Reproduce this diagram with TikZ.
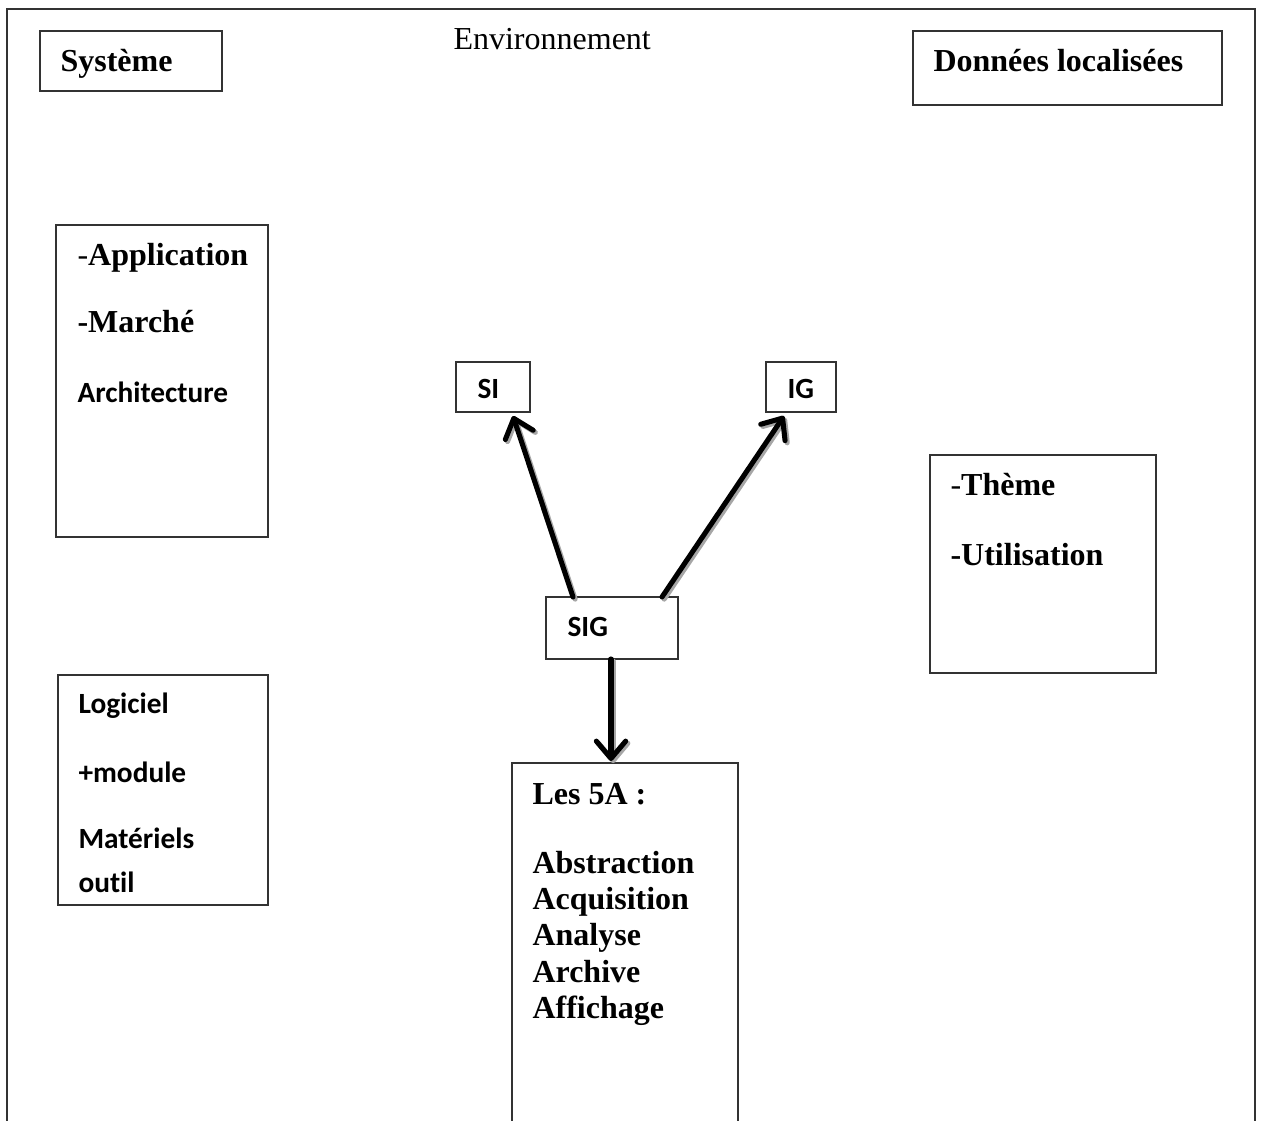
\documentclass[tikz,border=0pt]{standalone}
\usepackage{fontspec}
\setmainfont{Liberation Serif}
\newfontfamily\calib[Ligatures=NoCommon]{Carlito}
\usetikzlibrary{arrows.meta,fit,calc}
\begin{document}
\begin{tikzpicture}[x=0.375pt,y=-0.375pt,
  box/.style={draw=black!80,line width=0.55pt,inner sep=0pt,outer sep=0pt,rectangle},
  tx/.style={anchor=base west,inner sep=0pt,font=\fontsize{12}{14}\selectfont\bfseries},
  cx/.style={anchor=base west,inner sep=0pt,font=\fontsize{11}{13}\selectfont\calib\bfseries},
  tipstyle/.style={-{Straight Barb[length=6.5pt,width=11pt,line cap=round,line join=round]}},
  conn/.style={line width=1.9pt,line cap=round,line join=round,tipstyle},
  connshadow/.style={conn,draw=black!35,transform canvas={shift={(0.8pt,-0.8pt)}}}]
\useasboundingbox (0,0) rectangle (1262,1120);
\clip (0,0) rectangle (1262,1120);
\fill[white] (0,0) rectangle (1262,1120);
% outer frame
\node[box,fit={(7,9) (1255,1160)}] (env) {};
\node[anchor=base west,inner sep=0pt,font=\fontsize{12}{14}\selectfont] (envt) at (453,50) {Environnement};
% boxes
\node[box,fit={(40,31) (222,91)}] (sys) {};
\node[tx] (syst) at (60,72) {Système};
\node[box,fit={(913,31) (1222,105)}] (don) {};
\node[tx] (dont) at (933,72) {Données localisées};
\node[box,fit={(56,225) (268,537)}] (app) {};
\node[tx] (appa) at (77,265) {\mdseries-\bfseries Application};
\node[tx] (appb) at (77,332) {-Marché};
\node[cx] (appc) at (77,402) {Architecture};
\node[box,fit={(58,675) (268,905)}] (log) {};
\node[cx] (loga) at (78,713) {Logiciel};
\node[cx] (logb) at (78,782) {+module};
\node[cx] (logc) at (78,848) {Matériels};
\node[cx] (logd) at (78,892) {outil};
\node[box,fit={(456,362) (530,412)}] (si) {};
\node[cx] (sit) at (477,398) {SI};
\node[box,fit={(766,362) (836,412)}] (ig) {};
\node[cx] (igt) at (787,398) {IG};
\node[box,fit={(546,597) (678,659)}] (sig) {};
\node[cx] (sigt) at (567,636) {SIG};
\node[box,fit={(930,455) (1156,673)}] (the) {};
\node[tx] (thea) at (950,495) {\mdseries-\bfseries Thème};
\node[tx] (theb) at (950,565) {-Utilisation};
\node[box,fit={(512,763) (738,1160)}] (les) {};
\node[tx] (lesa) at (532,804) {Les 5A :};
\node[tx] (lesb) at (532,873) {Abstraction};
\node[tx] (lesc) at (532,909) {Acquisition};
\node[tx] (lesd) at (532,945) {Analyse};
\node[tx] (lese) at (532,982) {Archive};
\node[tx] (lesf) at (532,1018) {Affichage};
% connector shadows
\draw[connshadow] ($(sig.north west)+(27,0)$) -- ($(si.south west)+(57,4)$);
\draw[connshadow] ($(sig.north west)+(116,0)$) -- ($(ig.south west)+(18,4)$);
\draw[connshadow] ($(sig.south west)+(65,0)$) -- ($(les.north west)+(99,-2)$);
% connectors
\draw[conn] ($(sig.north west)+(27,0)$) -- ($(si.south west)+(57,4)$);
\draw[conn] ($(sig.north west)+(116,0)$) -- ($(ig.south west)+(18,4)$);
\draw[conn] ($(sig.south west)+(65,0)$) -- ($(les.north west)+(99,-2)$);
\end{tikzpicture}
\end{document}
